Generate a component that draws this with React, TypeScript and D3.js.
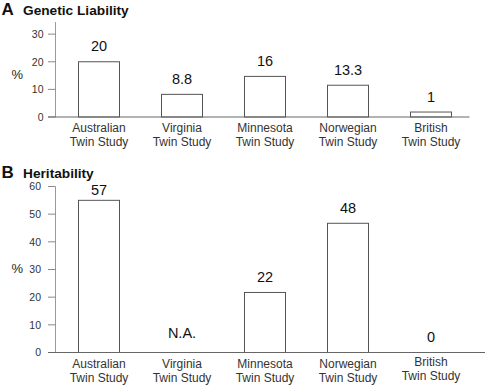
import React from "react";
import * as d3 from "d3";

const categories = ["Australian Twin Study", "Virginia Twin Study", "Minnesota Twin Study", "Norwegian Twin Study", "British Twin Study"];
const liabilityValues = [20, 8.2, 14.7, 11.5, 1.8];
const liabilityLabels = ["20", "8.8", "16", "13.3", "1"];
const heritabilityValues: (number | null)[] = [55, null, 21.7, 46.7, 0];
const heritabilityLabels = ["57", "N.A.", "22", "48", "0"];
const liabilityTicks = [0, 10, 20, 30];
const heritabilityTicks = [0, 10, 20, 30, 40, 50, 60];

const FONT = "'Liberation Sans', Arial, Helvetica, sans-serif";

type PanelProps = {
  letter: string;
  title: string;
  titleY: number;
  values: (number | null)[];
  labels: string[];
  ticks: number[];
  domainMax: number;
  yTop: number;
  yBottom: number;
  axisTop: number;
  tickLabelX: number;
  percentY: number;
  xAxisEnd: number;
};

function Panel(p: PanelProps) {
  const x = d3.scaleBand<string>().domain(categories).range([57.5, 472.5]).paddingInner(0.494).paddingOuter(0.247);
  const y = d3.scaleLinear().domain([0, p.domainMax]).range([p.yBottom, p.yTop]);
  const minLabelY = p.axisTop + 8.5;
  return (
    <g>
      <text x={1.5} y={p.titleY} fontFamily={FONT} fontWeight="bold" fontSize={17} fill="#111">{p.letter}</text>
      <text x={23} y={p.titleY} fontFamily={FONT} fontWeight="bold" fontSize={13.7} fill="#111">{p.title}</text>
      <text x={11.5} y={p.percentY} fontFamily={FONT} fontSize={13} fill="#222">%</text>
      {/* y axis */}
      <line x1={55.5} x2={55.5} y1={p.axisTop} y2={p.yBottom} stroke="#9a9a9a" strokeWidth={1} />
      {p.ticks.map((t) => (
        <g key={t}>
          <line x1={48} x2={55.5} y1={y(t)} y2={y(t)} stroke="#8a8a8a" strokeWidth={1} />
          <text x={p.tickLabelX} y={y(t) + 3.8} textAnchor="end" fontFamily={FONT} fontSize={10.5} fill="#333">{t}</text>
        </g>
      ))}
      {/* bars */}
      {categories.map((c, i) => {
        const v = p.values[i];
        const bx = x(c)!;
        const cx = bx + x.bandwidth() / 2;
        const barTop = v == null ? y(0) : y(v);
        const labelY = v == null ? y(0) - 14.5 : Math.max(barTop - 10.5, minLabelY);
        const words = c.split(" ");
        const line1 = words[0];
        const line2 = words.slice(1).join(" ");
        const catShift = i === 4 && p.letter === "B" ? -2 : 0;
        return (
          <g key={c}>
            {v != null && v > 0 && (
              <rect x={bx + 0.5} y={barTop} width={x.bandwidth() - 1} height={y(0) - barTop} fill="#fff" stroke="#555" strokeWidth={1} />
            )}
            <text x={cx} y={labelY} textAnchor="middle" fontFamily={FONT} fontSize={14.5} fill="#111">{p.labels[i]}</text>
            <text x={cx} y={p.yBottom + 15 + catShift} textAnchor="middle" fontFamily={FONT} fontSize={12} fill="#333">{line1}</text>
            <text x={cx} y={p.yBottom + 29 + catShift} textAnchor="middle" fontFamily={FONT} fontSize={12} fill="#333">{line2}</text>
          </g>
        );
      })}
      {/* x axis */}
      <line x1={48} x2={p.xAxisEnd} y1={p.yBottom} y2={p.yBottom} stroke="#666" strokeWidth={1} />
    </g>
  );
}

export default function App() {
  return (
    <svg width={485} height={387} style={{ position: "absolute", left: 0, top: 0, background: "#fff" }}>
      <rect x={0} y={0} width={485} height={387} fill="#fff" />
      <Panel
        letter="A"
        title="Genetic Liability"
        titleY={15}
        values={liabilityValues}
        labels={liabilityLabels}
        ticks={liabilityTicks}
        domainMax={34.4}
        yTop={22}
        yBottom={117}
        axisTop={22}
        tickLabelX={43.5}
        percentY={79}
        xAxisEnd={469.5}
      />
      <Panel
        letter="B"
        title="Heritability"
        titleY={177.5}
        values={heritabilityValues}
        labels={heritabilityLabels}
        ticks={heritabilityTicks}
        domainMax={60}
        yTop={186.5}
        yBottom={352.5}
        axisTop={186.5}
        tickLabelX={41}
        percentY={273}
        xAxisEnd={485}
      />
    </svg>
  );
}
